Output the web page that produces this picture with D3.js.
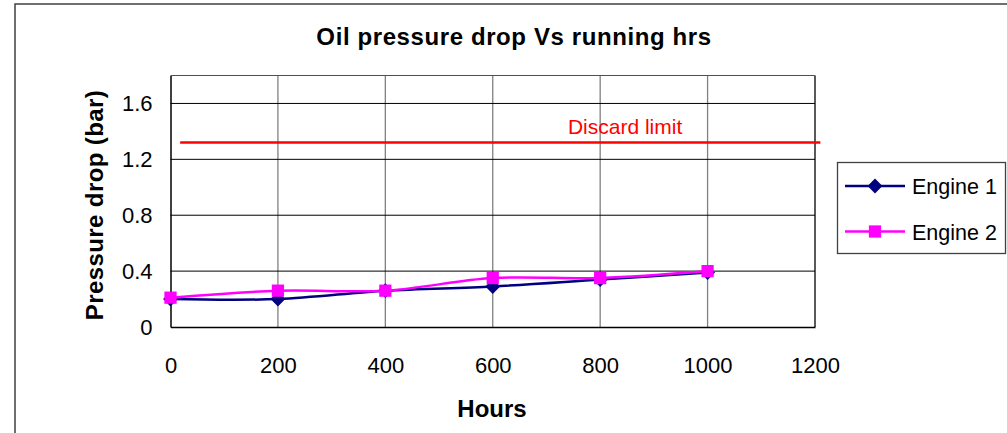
<!DOCTYPE html>
<html>
  <head>
    <meta charset="utf-8">
    <title>Oil pressure drop Vs running hrs</title>
    <style>
      body { margin: 0; background: #fff; }
      svg { display: block; font-family: "Liberation Sans", Arial, sans-serif; }
    </style>
  </head>
  <body>
    <div class="chart-area"></div>

    <script src="https://d3js.org/d3.v7.min.js"></script>
    <script>
        // data
        var hours = [0, 200, 400, 600, 800, 1000];
        var engine1 = [0.2, 0.2, 0.26, 0.29, 0.34, 0.39];
        var engine2 = [0.21, 0.26, 0.26, 0.35, 0.35, 0.40];
        var discardLimit = 1.32;
        var limitSpan = [18, 1210];   // hours the red line runs across
        var xTicks = [0, 200, 400, 600, 800, 1000, 1200];
        var yTicks = [0, 0.4, 0.8, 1.2, 1.6];

        var W = 1007, H = 433;
        var plot = {left: 170.5, right: 815, top: 75.5, bottom: 327};

        var svg = d3.select(".chart-area")
          .append("svg")
            .attr("width", W)
            .attr("height", H);

        // outer chart frame (right and bottom edges are cut off in the picture)
        svg.append("rect")
            .attr("x", 15).attr("y", 4)
            .attr("width", 1100).attr("height", 500)
            .attr("fill", "none")
            .attr("stroke", "#404040")
            .attr("stroke-width", 1.5);

        var x = d3.scaleLinear().domain([0, 1200]).range([plot.left, plot.right]);
        var y = d3.scaleLinear().domain([0, 1.8]).range([plot.bottom, plot.top]);

        // grid
        svg.append("g")
          .selectAll("line")
          .data(xTicks.slice(1))
          .enter().append("line")
            .attr("x1", d => x(d)).attr("x2", d => x(d))
            .attr("y1", plot.top).attr("y2", plot.bottom)
            .attr("stroke", d => d === 1200 ? "#000" : "#808080")
            .attr("stroke-width", 1.3);

        svg.append("g")
          .selectAll("line")
          .data(yTicks.slice(1))
          .enter().append("line")
            .attr("x1", plot.left).attr("x2", plot.right)
            .attr("y1", d => y(d)).attr("y2", d => y(d))
            .attr("stroke", "#000")
            .attr("stroke-width", 1);

        // top border of plot area
        svg.append("line")
            .attr("x1", plot.left).attr("x2", plot.right)
            .attr("y1", y(1.8)).attr("y2", y(1.8))
            .attr("stroke", "#505050").attr("stroke-width", 1.2);

        // axes
        var xAxis = svg.append("g")
            .attr("transform", "translate(0," + plot.bottom + ")")
            .call(d3.axisBottom(x).tickValues(xTicks).tickSize(0).tickPadding(46)
                  .tickFormat(d3.format("d")));
        xAxis.select(".domain").attr("stroke", "#000").attr("stroke-width", 1.5);
        xAxis.selectAll("text")
            .attr("font-size", 22).attr("fill", "#000")
            .attr("font-family", "Liberation Sans, Arial, sans-serif")
            .attr("dy", "0");

        var yAxis = svg.append("g")
            .attr("transform", "translate(" + plot.left + ",0)")
            .call(d3.axisLeft(y).tickValues(yTicks).tickSize(0).tickPadding(18)
                  .tickFormat(d => d === 0 ? "0" : d3.format(".1f")(d)));
        yAxis.select(".domain").attr("stroke", "#000").attr("stroke-width", 1.5);
        yAxis.selectAll("text")
            .attr("font-size", 22).attr("fill", "#000")
            .attr("font-family", "Liberation Sans, Arial, sans-serif");

        // discard limit
        svg.append("line")
            .attr("x1", x(limitSpan[0])).attr("x2", x(limitSpan[1]))
            .attr("y1", y(discardLimit)).attr("y2", y(discardLimit))
            .attr("stroke", "#ff0000").attr("stroke-width", 2.5);
        svg.append("text")
            .attr("x", x(740)).attr("y", y(discardLimit) - 9)
            .attr("fill", "#ff0000")
            .attr("font-size", 21)
            .text("Discard limit");

        // series (diamond = square turned 45 degrees)
        var series = [
            {name: "Engine 1", values: engine1, color: "#000080", shape: d3.symbolSquare, size: 110, rot: 45},
            {name: "Engine 2", values: engine2, color: "#ff00ff", shape: d3.symbolSquare, size: 150, rot: 0}
        ];

        var line = d3.line()
            .x(d => x(d[0]))
            .y(d => y(d[1]))
            .curve(d3.curveCardinal.tension(0));

        series.forEach(function(s) {
            var pts = hours.map((h, i) => [h, s.values[i]]);
            var g = svg.append("g");
            g.append("path")
                .datum(pts)
                .attr("d", line)
                .attr("fill", "none")
                .attr("stroke", s.color)
                .attr("stroke-width", 2.5);
            g.selectAll("path.pt")
                .data(pts)
                .enter().append("path")
                .attr("class", "pt")
                .attr("transform", d => "translate(" + x(d[0]) + "," + y(d[1]) + ") rotate(" + s.rot + ")")
                .attr("d", d3.symbol().type(s.shape).size(s.size))
                .attr("fill", s.color);
        });

        // legend
        var legend = svg.append("g");
        legend.append("rect")
            .attr("x", 837.5).attr("y", 162.5)
            .attr("width", 168).attr("height", 91)
            .attr("fill", "#fff")
            .attr("stroke", "#404040").attr("stroke-width", 1.3);
        series.forEach(function(s, i) {
            var ly = 186 + i * 45.5;
            legend.append("line")
                .attr("x1", 845).attr("x2", 905)
                .attr("y1", ly).attr("y2", ly)
                .attr("stroke", s.color).attr("stroke-width", 2.5);
            legend.append("path")
                .attr("transform", "translate(875," + ly + ") rotate(" + s.rot + ")")
                .attr("d", d3.symbol().type(s.shape).size(s.size))
                .attr("fill", s.color);
            legend.append("text")
                .attr("x", 912).attr("y", ly + 8)
                .attr("font-size", 21.5)
                .attr("fill", "#000")
                .text(s.name);
        });

        // titles
        svg.append("text")
            .attr("x", 514).attr("y", 45)
            .attr("text-anchor", "middle")
            .attr("font-size", 24).attr("font-weight", "bold")
            .attr("letter-spacing", 0.6)
            .text("Oil pressure drop Vs running hrs");

        svg.append("text")
            .attr("x", 492).attr("y", 417)
            .attr("text-anchor", "middle")
            .attr("font-size", 24).attr("font-weight", "bold")
            .text("Hours");

        svg.append("text")
            .attr("transform", "translate(103,205) rotate(-90)")
            .attr("text-anchor", "middle")
            .attr("font-size", 24).attr("font-weight", "bold")
            .attr("letter-spacing", 0.4)
            .text("Pressure drop (bar)");
    </script>
  </body>
</html>
